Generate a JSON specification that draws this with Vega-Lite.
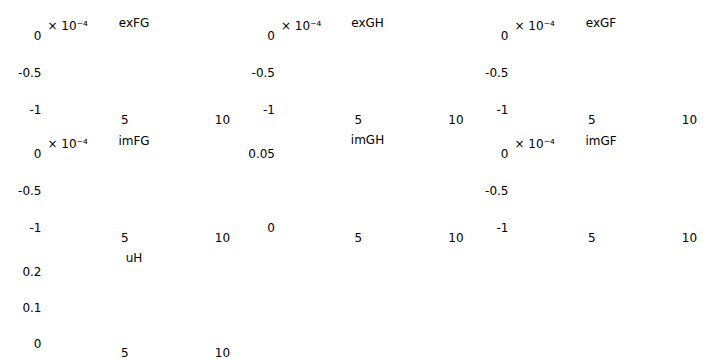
{
  "$schema": "https://vega.github.io/schema/vega-lite/v6.json",
  "background": "white",
  "padding": {"left": 17, "top": 17, "right": 0, "bottom": 0},
  "datasets": {
    "panels": [
      {"panel": "exFG", "x": 1, "y": -1}, {"panel": "exFG", "x": 10, "y": 0},
      {"panel": "exGH", "x": 1, "y": -1}, {"panel": "exGH", "x": 10, "y": 0},
      {"panel": "exGF", "x": 1, "y": -1}, {"panel": "exGF", "x": 10, "y": 0},
      {"panel": "imFG", "x": 1, "y": -1}, {"panel": "imFG", "x": 10, "y": 0},
      {"panel": "imGH", "x": 1, "y": 0}, {"panel": "imGH", "x": 10, "y": 0.05},
      {"panel": "imGF", "x": 1, "y": -1}, {"panel": "imGF", "x": 10, "y": 0},
      {"panel": "uH", "x": 1, "y": 0}, {"panel": "uH", "x": 10, "y": 0.2}
    ]
  },
  "columns": 3,
  "bounds": "flush",
  "spacing": {"row": 44, "column": 57.5},
  "concat": [
    {
      "title": {"text": "exFG", "offset": -11}, "width": 176, "height": 74, "data": {"name": "panels"},
      "transform": [{"filter": "datum.panel == 'exFG'"}],
      "mark": {"type": "point", "opacity": 0},
      "encoding": {
        "x": {"field": "x", "type": "quantitative", "scale": {"domain": [1, 10], "nice": false, "zero": false}, "axis": {"title": null, "values": [5, 10]}},
        "y": {"field": "y", "type": "quantitative", "scale": {"domain": [-1, 0], "nice": false, "zero": false}, "axis": {"values": [-1, -0.5, 0], "title": "× 10⁻⁴", "titleAngle": 0, "titleAlign": "left", "titleBaseline": "alphabetic", "titleX": 1, "titleY": -6}}
      }
    },
    {
      "title": {"text": "exGH", "offset": -11}, "width": 176, "height": 74, "data": {"name": "panels"},
      "transform": [{"filter": "datum.panel == 'exGH'"}],
      "mark": {"type": "point", "opacity": 0},
      "encoding": {
        "x": {"field": "x", "type": "quantitative", "scale": {"domain": [1, 10], "nice": false, "zero": false}, "axis": {"title": null, "values": [5, 10]}},
        "y": {"field": "y", "type": "quantitative", "scale": {"domain": [-1, 0], "nice": false, "zero": false}, "axis": {"values": [-1, -0.5, 0], "title": "× 10⁻⁴", "titleAngle": 0, "titleAlign": "left", "titleBaseline": "alphabetic", "titleX": 1, "titleY": -6}}
      }
    },
    {
      "title": {"text": "exGF", "offset": -11}, "width": 176, "height": 74, "data": {"name": "panels"},
      "transform": [{"filter": "datum.panel == 'exGF'"}],
      "mark": {"type": "point", "opacity": 0},
      "encoding": {
        "x": {"field": "x", "type": "quantitative", "scale": {"domain": [1, 10], "nice": false, "zero": false}, "axis": {"title": null, "values": [5, 10]}},
        "y": {"field": "y", "type": "quantitative", "scale": {"domain": [-1, 0], "nice": false, "zero": false}, "axis": {"values": [-1, -0.5, 0], "title": "× 10⁻⁴", "titleAngle": 0, "titleAlign": "left", "titleBaseline": "alphabetic", "titleX": 1, "titleY": -6}}
      }
    },
    {
      "title": {"text": "imFG", "offset": -11}, "width": 176, "height": 74, "data": {"name": "panels"},
      "transform": [{"filter": "datum.panel == 'imFG'"}],
      "mark": {"type": "point", "opacity": 0},
      "encoding": {
        "x": {"field": "x", "type": "quantitative", "scale": {"domain": [1, 10], "nice": false, "zero": false}, "axis": {"title": null, "values": [5, 10]}},
        "y": {"field": "y", "type": "quantitative", "scale": {"domain": [-1, 0], "nice": false, "zero": false}, "axis": {"values": [-1, -0.5, 0], "title": "× 10⁻⁴", "titleAngle": 0, "titleAlign": "left", "titleBaseline": "alphabetic", "titleX": 1, "titleY": -6}}
      }
    },
    {
      "title": {"text": "imGH", "offset": 0}, "width": 176, "height": 74, "data": {"name": "panels"},
      "transform": [{"filter": "datum.panel == 'imGH'"}],
      "mark": {"type": "point", "opacity": 0},
      "encoding": {
        "x": {"field": "x", "type": "quantitative", "scale": {"domain": [1, 10], "nice": false, "zero": false}, "axis": {"title": null, "values": [5, 10]}},
        "y": {"field": "y", "type": "quantitative", "scale": {"domain": [0, 0.05], "nice": false, "zero": false}, "axis": {"values": [0, 0.05], "title": null}}
      }
    },
    {
      "title": {"text": "imGF", "offset": -11}, "width": 176, "height": 74, "data": {"name": "panels"},
      "transform": [{"filter": "datum.panel == 'imGF'"}],
      "mark": {"type": "point", "opacity": 0},
      "encoding": {
        "x": {"field": "x", "type": "quantitative", "scale": {"domain": [1, 10], "nice": false, "zero": false}, "axis": {"title": null, "values": [5, 10]}},
        "y": {"field": "y", "type": "quantitative", "scale": {"domain": [-1, 0], "nice": false, "zero": false}, "axis": {"values": [-1, -0.5, 0], "title": "× 10⁻⁴", "titleAngle": 0, "titleAlign": "left", "titleBaseline": "alphabetic", "titleX": 1, "titleY": -6}}
      }
    },
    {
      "title": {"text": "uH", "offset": 0}, "width": 176, "height": 72, "data": {"name": "panels"},
      "transform": [{"filter": "datum.panel == 'uH'"}],
      "mark": {"type": "point", "opacity": 0},
      "encoding": {
        "x": {"field": "x", "type": "quantitative", "scale": {"domain": [1, 10], "nice": false, "zero": false}, "axis": {"title": null, "values": [5, 10], "labelPadding": 4}},
        "y": {"field": "y", "type": "quantitative", "scale": {"domain": [0, 0.2], "nice": false, "zero": false}, "axis": {"values": [0, 0.1, 0.2], "title": null}}
      }
    }
  ],
  "config": {
    "view": {"stroke": null},
    "axis": {
      "domain": false, "ticks": false, "grid": false,
      "labelFont": "DejaVu Sans", "labelFontSize": 12, "labelColor": "#000",
      "labelOverlap": false, "labelFlush": false, "labelBound": false,
      "labelExpr": "toString(datum.value)",
      "titleFont": "DejaVu Sans", "titleFontSize": 12, "titleFontWeight": "normal", "titleColor": "#000"
    },
    "axisX": {"labelPadding": 5},
    "axisY": {"labelPadding": 5},
    "title": {"font": "DejaVu Sans", "fontSize": 12, "fontWeight": "normal", "color": "#000", "frame": "group"}
  }
}
